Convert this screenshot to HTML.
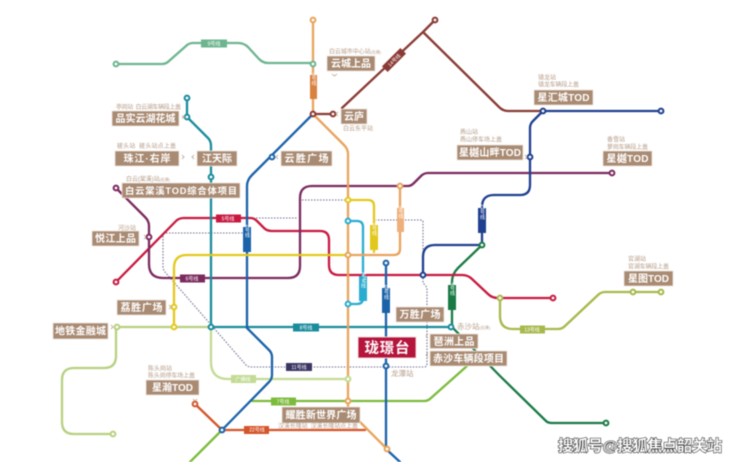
<!DOCTYPE html>
<html><head><meta charset="utf-8"><style>
html,body{margin:0;padding:0;background:#fff;width:740px;height:462px;overflow:hidden}
svg{display:block;filter:blur(.4px)}
text{font-family:"Liberation Sans","Noto Sans CJK SC",sans-serif}
.l{fill:none;stroke-width:2.300;stroke-linejoin:round;stroke-linecap:round}
.d{fill:none;stroke:#6f6f92;stroke-width:1.100;stroke-dasharray:1.500 1.500}
.b{fill:#a98a72;stroke:#eee4dc;stroke-width:.8}
.t{fill:#fff;font-weight:700;font-size:10px;text-anchor:middle}
.s{fill:#b59c88;font-size:6px}
.ln{fill:#fff;font-size:5px;text-anchor:middle}
.c{fill:none;stroke:#b59c88;stroke-width:.8}
circle{fill:#fff;stroke-width:2}
</style></head><body>
<svg width="740" height="462" viewBox="0 0 740 462" xmlns="http://www.w3.org/2000/svg">
<rect width="740" height="462" fill="#fff"/>
<!-- dotted -->
<path class="d" d="M163 233V266Q163 270 165 272L246 365Q248 367 251 367H424Q427 367 427 364V290Q427 287 425 285L423 283V222Q423 220 421 220H376"/>
<path class="d" d="M163 233H247"/>
<path class="d" d="M253 218H298"/>
<path class="d" d="M302 200H348"/>
<!-- green 4 -->
<path class="l" stroke="#1a7a45" d="M482 245L458 268Q452 274 452 282V327L500 376L546 421Q548 423 552 423H606"/>
<!-- red 5 -->
<path class="l" stroke="#c8193f" d="M116 282L176 221Q179 218 184 218H250Q254 218 257 221L264 228Q267 231 272 231H320Q329 231 329 240V265Q329 275 339 275H462Q468 275 472 279L488 294Q492 298 498 298H553"/>
<!-- purple 6 -->
<path class="l" stroke="#7b2a5e" d="M116 188L145 217Q149 221 149 226V264Q149 278 163 278H288Q300 278 300 266V198Q300 186 312 186H408Q411 186 414 183L421 176Q424 173 428 173H612"/>
<!-- teal 1/8 -->
<path class="l" stroke="#1a8c9c" d="M187 98V117L208 138Q211 141 211 146V327H451"/>
<!-- light green -->
<path class="l" stroke="#b7d07f" d="M211 327H116V356Q116 368 104 368H74Q62 368 62 380V422Q62 434 74 434H113"/>
<path class="l" stroke="#c3db94" d="M211 327V362Q211 379 228 379H348"/>
<!-- line 7 -->
<path class="l" stroke="#7cbb3c" d="M190 462L222 430"/>
<path class="l" stroke="#7cbb3c" d="M252 401H424Q428 401 431 398L467 366"/>
<!-- line 22 -->
<path class="l" stroke="#d4552a" d="M195 404L222 430H365"/>
<!-- line 2 -->
<path class="l" stroke="#1b62a8" d="M313 114L252 175Q247 180 247 186V328L269 350Q272 353 272 357V375Q272 379 269 382L222 430"/>
<!-- line 18 -->
<path class="l" stroke="#1b62a8" d="M386 263V449L400 462"/>
<!-- APM -->
<path class="l" stroke="#2aacd0" d="M348 221H357Q363 221 363 227V298Q363 304 357 304H348"/>
<!-- yellow -->
<path class="l" stroke="#e3c81c" d="M174 327V268Q174 255 187 255H348"/>
<path class="l" stroke="#e3c81c" d="M348 200H368Q374 200 374 206V252"/>
<!-- line 3 -->
<path class="l" stroke="#e8a35c" d="M313 20V114L344 145Q348 149 348 154V410L387 449"/>
<path class="l" stroke="#e8a35c" d="M348 255H394Q400 255 400 249V186"/>
<!-- line 9 -->
<path class="l" stroke="#6db58f" d="M116 64H162Q166 64 169 61L186 46Q189 43 193 43H238Q244 43 248 47L259 59Q263 63 268 63H313"/>
<!-- dark red -->
<path class="l" stroke="#8a3a34" d="M313 114H333M342 108L423 32L435 20M423 32L499 107Q503 111 508 111H543"/>
<!-- navy -->
<path class="l" stroke="#1f3f8f" d="M423 275V257Q423 245 435 245H482V207Q482 195 494 195H520Q530 195 530 185V128Q530 124 533 121L543 111H661"/>

<!-- line labels -->
<g>
<rect x="201" y="39.500" width="26" height="8" fill="#6db58f"/><text class="ln" x="214" y="45.500">9号线</text>
<rect x="310" y="75" width="7" height="24" fill="#d9813f"/><text class="ln" x="313.500" y="79" style="writing-mode:tb">3号线</text>
<g transform="rotate(-45 394 60)"><rect x="381" y="56" width="26" height="8" fill="#8a3a34"/><text class="ln" x="394" y="62">14号线</text></g>
<rect x="216" y="214.500" width="25" height="8" fill="#c8193f"/><text class="ln" x="228" y="220.500">5号线</text>
<rect x="243" y="227" width="8" height="25" fill="#1b62a8"/><text class="ln" x="247" y="231" style="writing-mode:tb">2号线</text>
<rect x="180" y="274.500" width="25" height="8" fill="#7b2a5e"/><text class="ln" x="192" y="280.500">6号线</text>
<rect x="370" y="225" width="8" height="25" fill="#e3c81c"/><text class="ln" x="374" y="229" style="writing-mode:tb">1号线</text>
<rect x="397" y="208" width="7" height="24" fill="#eeb07a"/><text class="ln" x="400.500" y="212" style="writing-mode:tb">3号线</text>
<rect x="359" y="276" width="8" height="25" fill="#2aacd0"/><text class="ln" x="363" y="280" style="writing-mode:tb" font-size="4.500">APM线</text>
<rect x="382" y="288" width="8" height="25" fill="#1b62a8"/><text class="ln" x="386" y="292" style="writing-mode:tb">18号线</text>
<rect x="478" y="208" width="8" height="25" fill="#1f3f8f"/><text class="ln" x="482" y="212" style="writing-mode:tb">21号线</text>
<rect x="448" y="285" width="8" height="25" fill="#1a7a45"/><text class="ln" x="452" y="289" style="writing-mode:tb">4号线</text>
<rect x="293" y="323.500" width="26" height="8" fill="#1a8c9c"/><text class="ln" x="306" y="329.500">8号线</text>
<rect x="286" y="363" width="26" height="8" fill="#3b3563"/><text class="ln" x="299" y="369">11号线</text>
<rect x="231" y="375" width="25" height="8" fill="#c3db94"/><text class="ln" x="243" y="381">广佛线</text>
<rect x="271" y="397.500" width="25" height="8" fill="#7cbb3c"/><text class="ln" x="283" y="403.500">7号线</text>
<rect x="244" y="426" width="25" height="8" fill="#d4552a"/><text class="ln" x="257" y="431.500">22号线</text>
</g>

<!-- line 13 -->
<path class="l" stroke="#a8b84c" d="M500 298V316Q500 329 513 329H558Q562 329 565 326L598 295Q601 292 605 292H661"/>
<rect x="520" y="325.500" width="25" height="8" fill="#a8b84c"/><text class="ln" x="532" y="331.500">13号线</text>

<!-- stations -->
<g>
<circle cx="116" cy="64" r="2.400" stroke="#6db58f"/>
<circle cx="313" cy="64" r="2.400" stroke="#6db58f"/>
<circle cx="313" cy="20" r="2.400" stroke="#e8a35c"/>
<circle cx="435" cy="20" r="2.400" stroke="#8a3a34"/>
<circle cx="313" cy="114" r="2.400" stroke="#8a3a34"/>
<circle cx="333" cy="114" r="2.400" stroke="#8a3a34"/>
<circle cx="272" cy="157" r="2.400" stroke="#1b62a8"/>
<circle cx="187" cy="98" r="2.400" stroke="#1a8c9c"/>
<circle cx="187" cy="117" r="2.400" stroke="#1a8c9c"/>
<circle cx="211" cy="177" r="2.400" stroke="#1a8c9c"/>
<circle cx="211" cy="327" r="2.400" stroke="#1a8c9c"/>
<circle cx="116" cy="188" r="2.400" stroke="#7b2a5e"/>
<circle cx="149" cy="237" r="2.400" stroke="#7b2a5e"/>
<circle cx="612" cy="173" r="2.400" stroke="#7b2a5e"/>
<circle cx="116" cy="282" r="2.400" stroke="#c8193f"/>
<circle cx="553" cy="298" r="2.400" stroke="#c8193f"/>
<circle cx="174" cy="307" r="2.400" stroke="#e3c81c"/>
<circle cx="174" cy="327" r="2.400" stroke="#e3c81c"/>
<circle cx="117" cy="327" r="2.400" stroke="#b7d07f"/>
<circle cx="113" cy="434" r="2.400" stroke="#b7d07f"/>
<circle cx="195" cy="404" r="2.400" stroke="#d4552a"/>
<circle cx="222" cy="430" r="2.400" stroke="#1b62a8"/>
<circle cx="348" cy="200" r="2.400" stroke="#e3c81c"/>
<circle cx="348" cy="221" r="2.400" stroke="#2aacd0"/>
<circle cx="348" cy="304" r="2.400" stroke="#2aacd0"/>
<circle cx="400" cy="186" r="2.400" stroke="#e8a35c"/>
<circle cx="348" cy="255" r="2.400" stroke="#e8a35c"/>
<circle cx="348" cy="379" r="2.400" stroke="#c3db94"/>
<circle cx="348" cy="401" r="2.400" stroke="#e8a35c"/>
<circle cx="387" cy="449" r="2.400" stroke="#e8a35c"/>
<circle cx="386" cy="263" r="2.400" stroke="#1b62a8"/>
<circle cx="386" cy="366" r="2.400" stroke="#1b62a8"/>
<circle cx="423" cy="275" r="2.400" stroke="#1f3f8f"/>
<circle cx="482" cy="245" r="2.400" stroke="#1a7a45"/>
<circle cx="451" cy="327" r="2.400" stroke="#1a8c9c"/>
<circle cx="530" cy="157" r="2.400" stroke="#1f3f8f"/>
<circle cx="543" cy="111" r="2.400" stroke="#1f3f8f"/>
<circle cx="661" cy="111" r="2.400" stroke="#1f3f8f"/>
<circle cx="500" cy="298" r="2.400" stroke="#a8b84c"/>
<circle cx="633" cy="292" r="2.400" stroke="#a8b84c"/>
<circle cx="661" cy="292" r="2.400" stroke="#a8b84c"/>
<circle cx="606" cy="423" r="2.400" stroke="#1a7a45"/>
</g>

<!-- white gap behind small caption -->
<rect x="277" y="422.500" width="82" height="6" fill="#fff"/>

<!-- name boxes -->
<g>
<rect class="b" x="112" y="111" width="67" height="15"/><text class="t" x="145.500" y="122" textLength="60">品实云湖花城</text>
<rect class="b" x="115" y="151" width="64" height="15"/><text class="t" x="147" y="162" textLength="47">珠江·右岸</text>
<rect class="b" x="197" y="151" width="40" height="15"/><text class="t" x="217" y="162" textLength="30">江天际</text>
<rect class="b" x="122" y="183" width="118" height="15"/><text class="t" x="181" y="194" style="font-size:9.300px" textLength="112">白云棠溪TOD综合体项目</text>
<rect class="b" x="92" y="231" width="47" height="15"/><text class="t" x="115.500" y="242" textLength="41">悦江上品</text>
<rect class="b" x="117" y="300" width="49" height="15"/><text class="t" x="141.500" y="311" textLength="42">荔胜广场</text>
<rect class="b" x="53" y="323" width="55" height="16"/><text class="t" x="80.500" y="334.500" textLength="51">地铁金融城</text>
<rect class="b" x="146" y="380" width="53" height="15"/><text class="t" x="172.500" y="391" textLength="41">星瀚TOD</text>
<rect class="b" x="327" y="56" width="48" height="15"/><text class="t" x="351" y="67" textLength="40">云城上品</text>
<rect class="b" x="341" y="109" width="26" height="15"/><text class="t" x="354" y="120" textLength="20">云庐</text>
<rect class="b" x="281" y="151" width="51" height="15"/><text class="t" x="306.500" y="162" textLength="44">云胜广场</text>
<rect class="b" x="457" y="145" width="66" height="15"/><text class="t" x="490" y="156" textLength="62">星樾山畔TOD</text>
<rect class="b" x="534" y="90" width="59" height="15"/><text class="t" x="563.500" y="101" textLength="52">星汇城TOD</text>
<rect class="b" x="603" y="151" width="49" height="15"/><text class="t" x="627.500" y="162" textLength="42">星樾TOD</text>
<rect class="b" x="624" y="271" width="49" height="15"/><text class="t" x="648.500" y="282" textLength="41">星图TOD</text>
<rect class="b" x="396" y="307" width="48" height="15"/><text class="t" x="420" y="318" textLength="41">万胜广场</text>
<rect class="b" x="430" y="334" width="48" height="14.500"/><text class="t" x="454" y="345" textLength="41">琶洲上品</text>
<rect class="b" x="430" y="351" width="77" height="15"/><text class="t" x="468.500" y="362" textLength="71">赤沙车辆段项目</text>
<rect class="b" x="282" y="407" width="78" height="16"/><text class="t" x="321" y="418.500" textLength="71">耀胜新世界广场</text>
<rect x="358" y="337" width="58" height="21" fill="#b5143c" stroke="#f0d8dc" stroke-width="1"/><text class="t" x="387" y="353" style="font-size:14.500px" textLength="45">珑璟台</text>
</g>

<!-- captions -->
<g>
<text class="s" x="116" y="109" textLength="65">亭岗站&#160;&#160;白云湖车辆段上盖</text>
<text class="s" x="117" y="148" textLength="59">槎头站&#160;&#160;槎头站点上盖</text>
<text class="s" x="126" y="181" textLength="44">白云(棠溪)站<tspan font-size="4">(在建)</tspan></text>
<text class="s" x="118" y="230">河沙站</text>
<text class="s" x="148" y="370.500">陈头岗站</text>
<text class="s" x="148" y="377.500" textLength="47">陈头岗停车场上盖</text>
<text class="s" x="329" y="53.500" textLength="52">白云城市中心站<tspan font-size="4">(在建)</tspan></text>
<text class="s" x="343" y="130.500">白云东平站</text>
<text class="s" x="460" y="134">燕山站</text>
<text class="s" x="460" y="141.500" textLength="42">燕山停车场上盖</text>
<text class="s" x="538" y="79.500">镇龙站</text>
<text class="s" x="538" y="86.500" textLength="41">镇龙车辆段上盖</text>
<text class="s" x="607" y="141.500">香雪站</text>
<text class="s" x="607" y="149" textLength="41">萝岗车辆段上盖</text>
<text class="s" x="628" y="261">官湖站</text>
<text class="s" x="628" y="268.500" textLength="41">官湖车辆段上盖</text>
<text class="s" x="457" y="329" style="font-size:7.500px">赤沙站<tspan style="font-size:4px">(在建)</tspan></text>
<text class="s" x="391" y="376" style="font-size:7.500px">龙潭站</text>
<text class="s" x="278" y="428" textLength="80">汉溪长隆站&#160;&#160;汉溪长隆站点上盖</text>
</g>

<!-- chevrons -->
<g>
<path class="c" d="M182 115.500l3 3M185 115.500l-3 3"/>
<path class="c" d="M182 155l2 2-2 2M194 155l-2 2 2 2"/>
<path class="c" d="M144 235l2 2-2 2"/>
<path class="c" d="M169 305l2 2-2 2"/>
<path class="c" d="M111 325l2 2-2 2"/>
<path class="c" d="M193 399l2 2 2-2"/>
<path class="c" d="M332 74l2.500 2 2.500-2"/>
<path class="c" d="M338 112l-2 2 2 2"/>
<path class="c" d="M278 155l-2 2 2 2"/>
<path class="c" d="M525 155l2 2-2 2"/>
<path class="c" d="M441 313l2 2-2 2"/>
<path class="c" d="M428 334l-2 2 2 2M428 353l-2 2 2 2"/>
</g>

<!-- watermark -->
<text x="558" y="451" font-size="15.200" font-weight="700" fill="#fff" textLength="164" style="paint-order:stroke;stroke:#222;stroke-width:1.100px">搜狐号@搜狐焦点韶关站</text>
</svg>
</body></html>
